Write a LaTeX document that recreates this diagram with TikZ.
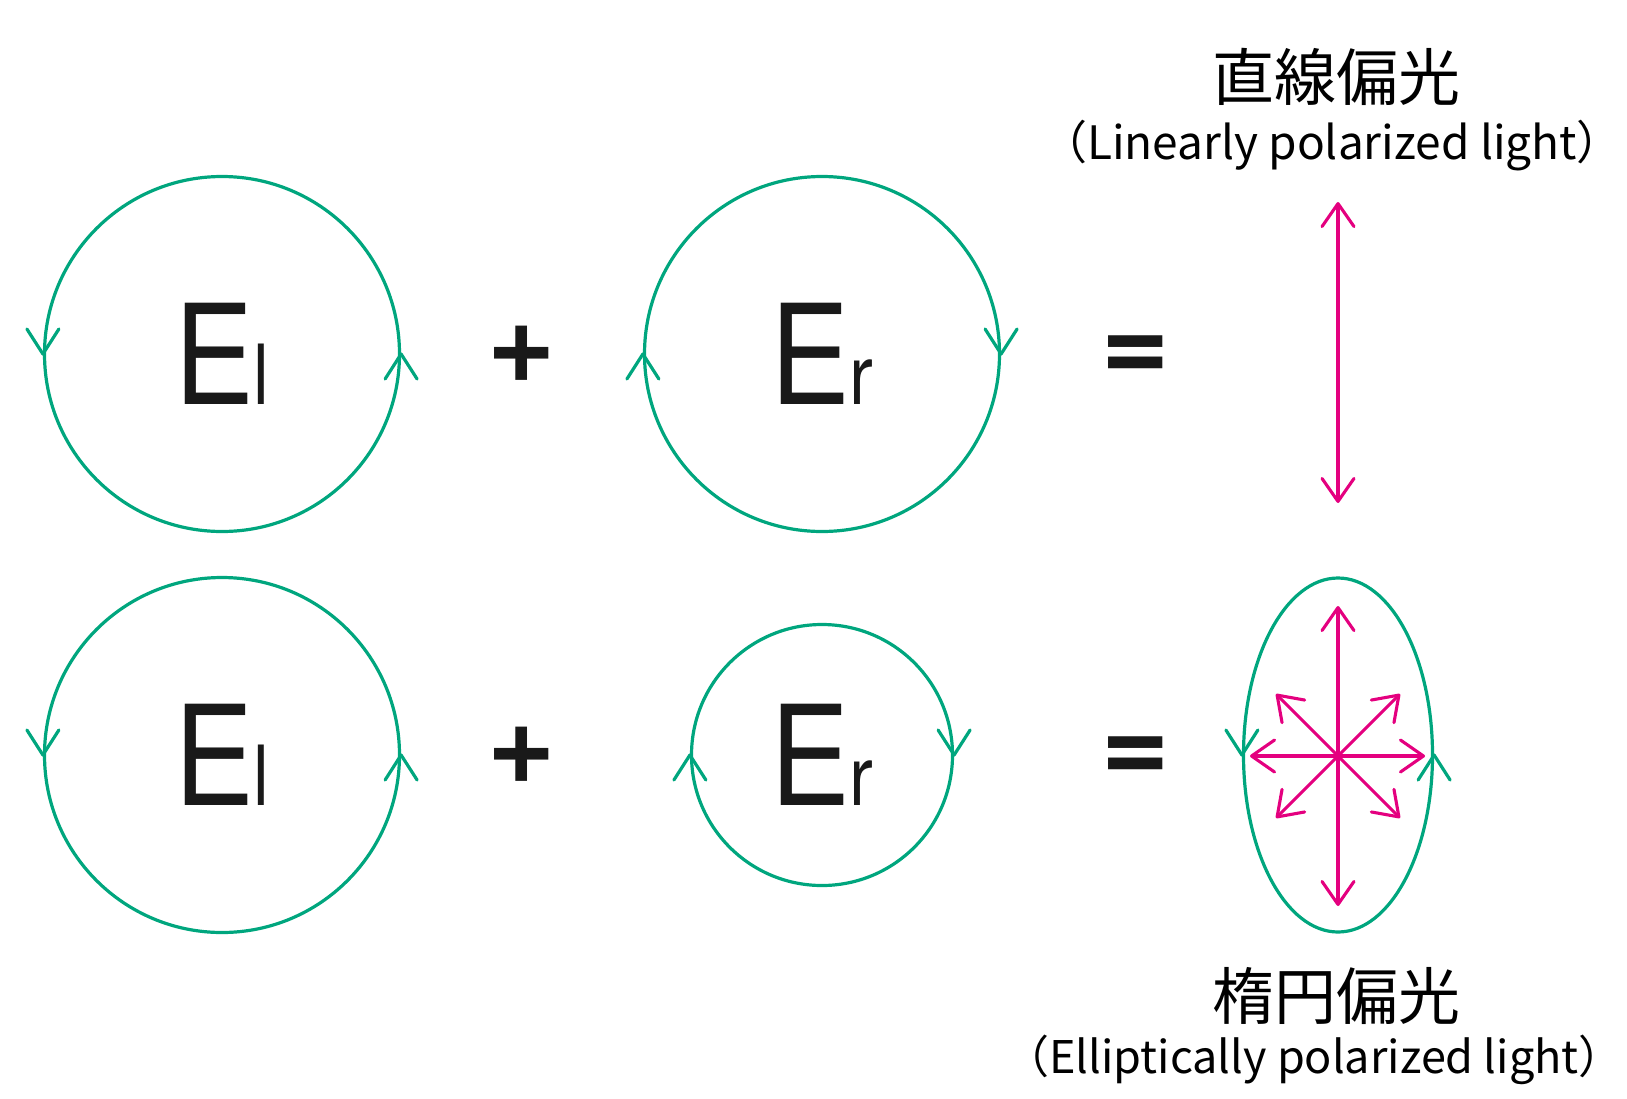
\documentclass[tikz,border=0pt]{standalone}
\usepackage{fontspec}
\usepackage{graphicx}
\setmainfont{TeX Gyre Heros}
\newfontfamily\jpfont{Noto Sans CJK JP}
\usetikzlibrary{positioning, arrows.meta, shapes.geometric}
\definecolor{ringgreen}{RGB}{0,166,126}
\definecolor{vecpink}{RGB}{228,0,127}

\newcommand{\Elab}[1]{\scalebox{0.86}[1]{E\fontsize{83}{83}\selectfont #1}}

\begin{document}
\begin{tikzpicture}[x=1pt, y=-1pt,
    ring/.style={circle, draw=ringgreen, line width=3.2pt, inner sep=0pt,
                 text=black!90, font=\fontsize{139}{139}\selectfont},
    oval/.style={ellipse, draw=ringgreen, line width=3.2pt, inner sep=0pt},
    vhead/.style={draw=ringgreen, line width=3.2pt, line cap=round, line join=round},
    vec/.style={draw=vecpink, line width=3.1pt, line cap=round,
                >={Straight Barb[length=23pt, width=32pt, line join=round, line cap=round]}},
    op/.style={font=\fontsize{117}{117}\selectfont\bfseries, text=black!90, inner sep=0pt},
    jp/.style={font=\jpfont\fontsize{62}{62}\selectfont, inner sep=0pt},
    jpsub/.style={font=\jpfont\fontsize{46}{46}\selectfont, inner sep=0pt}
]
\useasboundingbox (0,0) rectangle (1627,1098);

% top row: linear
\node[ring, minimum size=355pt] (El1) at (222,354) {\Elab{l}};
\node[ring, minimum size=355pt] (Er1) at (822,354) {\Elab{r}};
\node[op] (plus1) at (522,354) {+};
\node[op] (eq1) at (1136,359) {=};

\draw[vhead] (El1.west) +(-16,-25) -- (El1.west) -- +(16,-25);
\draw[vhead] (El1.east) +(-16,25) -- (El1.east) -- +(16,25);
\draw[vhead] (Er1.west) +(-16,25) -- (Er1.west) -- +(16,25);
\draw[vhead] (Er1.east) +(-16,-25) -- (Er1.east) -- +(16,-25);

\coordinate (lintop) at (1338,202);
\coordinate (linbot) at (1338,503);
\draw[vec, <->] (lintop) -- (linbot);

\node[jp] (lintitle) at (1336,77) {直線偏光};
\node[jpsub, below=14pt of lintitle, xshift=-4pt] (linsub) {（Linearly polarized light）};

% bottom row: elliptical
\node[ring, minimum size=355pt] (El2) at (222,755) {\Elab{l}};
\node[ring, minimum size=261pt] (Er2) at (822,755) {\Elab{r}};
\node[op] (plus2) at (522,755) {+};
\node[op] (eq2) at (1136,760) {=};
\node[oval, minimum width=189pt, minimum height=354pt] (ell) at (1338,755) {};

\draw[vhead] (El2.west) +(-16,-25) -- (El2.west) -- +(16,-25);
\draw[vhead] (El2.east) +(-16,25) -- (El2.east) -- +(16,25);
\draw[vhead] (Er2.west) +(-16,25) -- (Er2.west) -- +(16,25);
\draw[vhead] (Er2.east) +(-16,-25) -- (Er2.east) -- +(16,-25);
\draw[vhead] (ell.west) +(-16,-25) -- (ell.west) -- +(16,-25);
\draw[vhead] (ell.east) +(-16,25) -- (ell.east) -- +(16,25);

\coordinate (star) at (1338,756);
\foreach \dx/\dy in {0/-150, 0/150, -88/0, 87/0, 62/-62, -62/-62, 62/62, -62/62}
    \draw[vec, ->] (star) -- ++(\dx,\dy);

\node[jp] (elltitle) at (1336,996) {楕円偏光};
\node[jpsub, below=10pt of elltitle, xshift=-22pt, font=\jpfont\fontsize{45}{45}\selectfont] (ellsub) {（Elliptically polarized light）};

\end{tikzpicture}
\end{document}
